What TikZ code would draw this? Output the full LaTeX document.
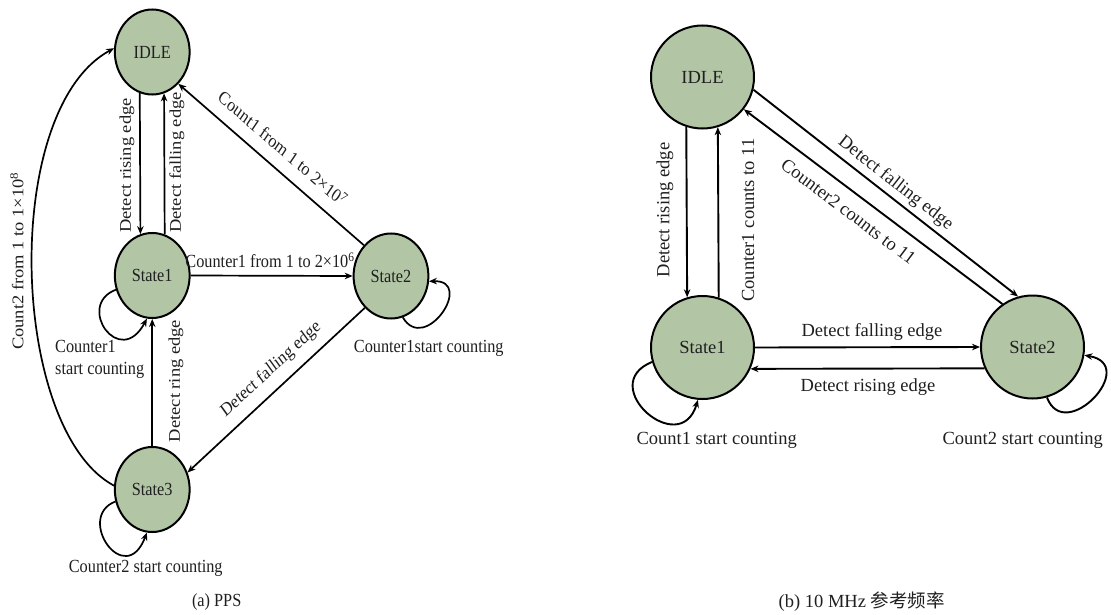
\documentclass[tikz,border=0pt]{standalone}
\usepackage{fontspec}
\setmainfont{Liberation Serif}
\newfontfamily\cjkfont{Noto Sans CJK SC}
\usetikzlibrary{arrows.meta}
\definecolor{stfill}{RGB}{178,198,166}
\begin{document}
\begin{tikzpicture}[x=1pt,y=-1pt,
  every node/.style={font=\fontsize{18.5}{22.5}\selectfont, text=black!88},
  st/.style={circle, draw=black, line width=2pt, fill=stfill, minimum size=#1, inner sep=0pt},
  tr/.style={line width=1.7pt, -{Stealth[length=8pt,width=6.5pt]}}]
\useasboundingbox (0,0) rectangle (1111,615);

% ---------------- (a) PPS ----------------
\begin{scope}[xscale=0.88, transform shape]
\node[st=85] (L-idle) at (173,52) {IDLE};
\node[st=85] (L-s1) at (173,275.5) {State1};
\node[st=85] (L-s2) at (444.3,276) {State2};
\node[st=85] (L-s3) at (173,489.5) {State3};

\draw[tr] (L-idle.251.3) -- (L-s1.108.7);
\draw[tr] (L-s1.71.3) -- (L-idle.288.7);
\draw[tr] (L-s3.north) -- (L-s1.south);
\draw[tr] (L-s1.east) -- (L-s2.west);
\draw[tr] (L-s2.135) -- (L-idle.313);
\draw[tr] (L-s2.227) -- (L-s3.23);
\draw[tr] (L-s3.175) .. controls (11,430) and (0,110) .. (L-idle.175);

% self loops
\draw[tr] (L-s1.199) .. controls (85,305) and (136,370) .. (L-s1.262);
\draw[tr] (L-s2.288) .. controls (483,355) and (540,280) .. (L-s2.353);
\draw[tr] (L-s3.196) .. controls (85,517) and (142,590) .. (L-s3.262);

% transition labels
\node[rotate=90] (L-rise) at (144.3,165.5) {Detect rising edge};
\node[rotate=90] (L-fall) at (201,162.5) {Detect falling edge};
\node[rotate=-37.4] (L-c1) at (321.6,148) {Count1 from 1 to 2×10\textsuperscript{7}};
\node (L-c1b) at (306.8,260) {Counter1 from 1 to 2×10\textsuperscript{6}};
\node[rotate=39.2] (L-fall2) at (308,369.5) {Detect falling edge};
\node[rotate=90] (L-ring) at (200,381) {Detect ring edge};
\node[rotate=90] (L-c2) at (19.3,261) {Count2 from 1 to 1×10\textsuperscript{8}};
\node[align=left, anchor=west, inner sep=0pt] (L-l1) at (62.5,359.5) {Counter1\\start counting};
\node (L-l2) at (487.2,348) {Counter1start counting};
\node (L-l3) at (165.6,568) {Counter2 start counting};
\node (L-cap) at (246.2,601.7) {(a) PPS};
\end{scope}

% ---------------- (b) 10 MHz ----------------
\node[st=103] (R-idle) at (702.5,77) {IDLE};
\node[st=103] (R-s1) at (702.5,347.5) {State1};
\node[st=103] (R-s2) at (1032.5,347) {State2};

\begin{scope}[tr/.append style={line width=1.9pt}]
\draw[tr] (R-idle.252.5) -- (R-s1.107.5);
\draw[tr] (R-s1.72.5) -- (R-idle.287.5);
\draw[tr] (R-idle.346) -- (R-s2.106);
\draw[tr] (R-s2.125) -- (R-idle.322);
\draw[tr] (R-s1.east) -- (R-s2.west);
\draw[tr] (R-s2.204) -- (R-s1.336);
\draw[tr] (R-s1.196) .. controls (595,385) and (680,460) .. (R-s1.265);
\draw[tr] (R-s2.286) .. controls (1065,445) and (1140,365) .. (R-s2.351.6);
\end{scope}

\node[rotate=90] (R-rise) at (665,210) {Detect rising edge};
\node[rotate=90] (R-c1) at (748,220) {Counter1 counts to 11};
\node[rotate=-38] (R-fall) at (895.5,183.5) {Detect falling edge};
\node[rotate=-37] (R-c2) at (848.5,211.5) {Counter2 counts to 11};
\node (R-fall2) at (872,332) {Detect falling edge};
\node (R-rise2) at (868,387) {Detect rising edge};
\node (R-l1) at (716.7,440) {Count1 start counting};
\node (R-l2) at (1022.8,440) {Count2 start counting};
\node (R-cap) at (861.7,601.7) {(b) 10 MHz {\cjkfont 参考频率}};
\end{tikzpicture}
\end{document}
